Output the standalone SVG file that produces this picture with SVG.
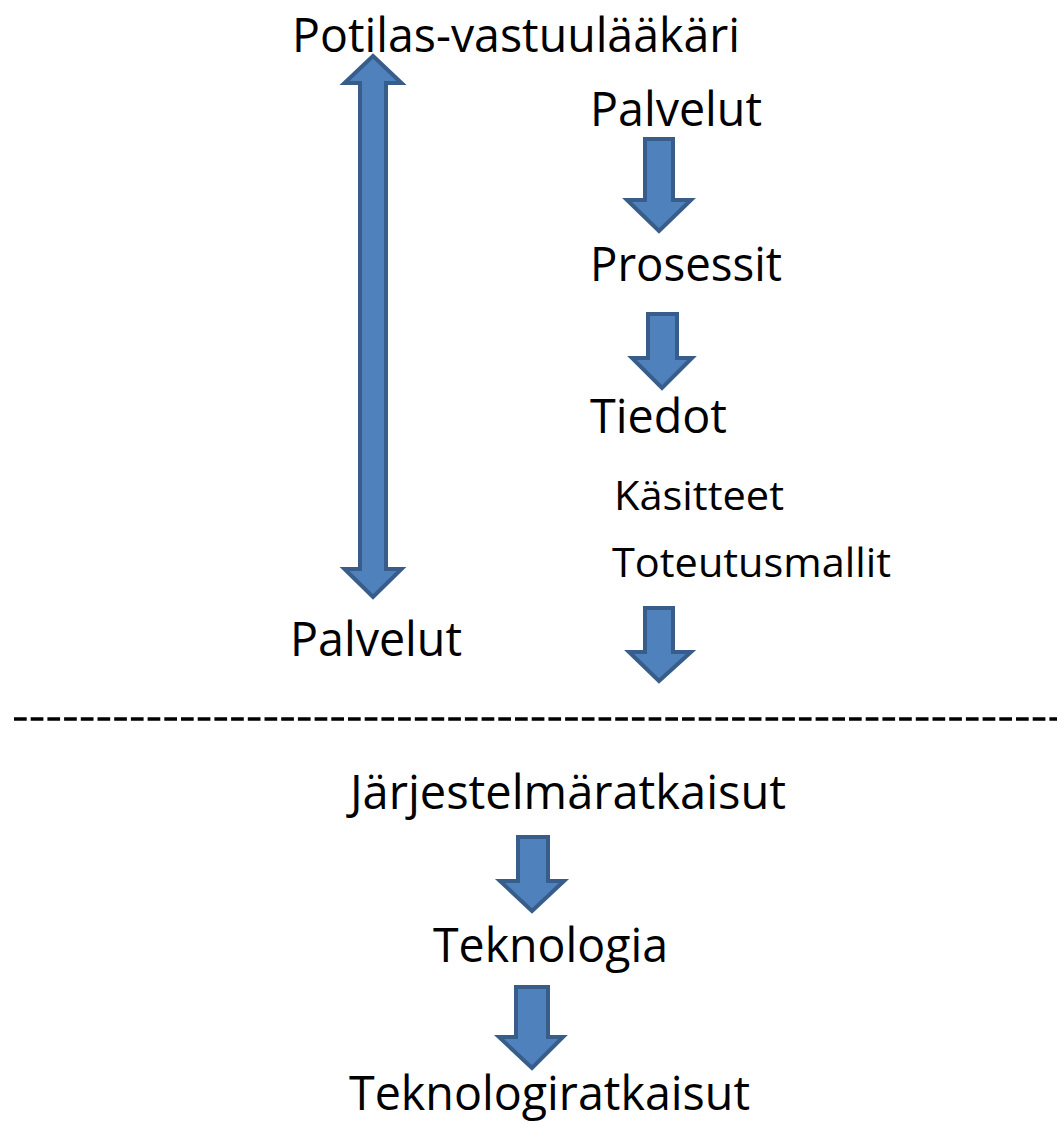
<svg xmlns="http://www.w3.org/2000/svg" width="1057" height="1125" viewBox="0 0 1057 1125">
<style>
  .lbl { font-family: "Open Sans", "Noto Sans", "Liberation Sans", sans-serif; fill: #000; }
  .big { font-size: 48px; }
  .small { font-size: 40px; }
  .arrow { fill: #4F81BD; stroke: #385D8A; stroke-width: 4; stroke-linejoin: miter; }
  .sep { stroke: #000; stroke-width: 3.5; stroke-dasharray: 12.7 4; fill: none; }
</style>
<rect width="1057" height="1125" fill="#fff"/>

<g id="connectors">
  <path id="arrow-double" class="arrow" d="M373,56 L401.5,83 L386,83 L386,569 L401.5,569 L373,597 L344.5,569 L360,569 L360,83 L344.5,83 Z"/>
  <path id="arrow-palvelut-prosessit" class="arrow" d="M645,139 L673,139 L673,200 L691,200 L659,231 L627,200 L645,200 Z"/>
  <path id="arrow-prosessit-tiedot" class="arrow" d="M648,314 L677,314 L677,358 L692,358 L662,388 L632,358 L648,358 Z"/>
  <path id="arrow-toteutusmallit" class="arrow" d="M645,608 L673,608 L673,652 L691,652 L659,681 L629,652 L645,652 Z"/>
  <path id="arrow-jarjestelma-teknologia" class="arrow" d="M518,837 L548,837 L548,881 L564,881 L532,911 L500,881 L518,881 Z"/>
  <path id="arrow-teknologia-ratkaisut" class="arrow" d="M516,987 L548,987 L548,1037 L563,1037 L532,1068 L499,1037 L516,1037 Z"/>
</g>

<g id="separator">
  <line class="sep" x1="14" y1="719" x2="1057" y2="719"/>
</g>

<g id="node-potilas"><text class="lbl big" x="292" y="52" textLength="448" lengthAdjust="spacingAndGlyphs">Potilas-vastuulääkäri</text></g>
<g id="node-palvelut-top"><text class="lbl big" x="590" y="126" textLength="172" lengthAdjust="spacingAndGlyphs">Palvelut</text></g>
<g id="node-prosessit"><text class="lbl big" x="590" y="281" textLength="192" lengthAdjust="spacingAndGlyphs">Prosessit</text></g>
<g id="node-tiedot"><text class="lbl big" x="590" y="433" textLength="137" lengthAdjust="spacingAndGlyphs">Tiedot</text></g>
<g id="node-kasitteet"><text class="lbl small" x="614" y="510" textLength="170" lengthAdjust="spacingAndGlyphs">Käsitteet</text></g>
<g id="node-toteutusmallit"><text class="lbl small" x="612" y="577" textLength="279" lengthAdjust="spacingAndGlyphs">Toteutusmallit</text></g>
<g id="node-palvelut-left"><text class="lbl big" x="290" y="656" textLength="172" lengthAdjust="spacingAndGlyphs">Palvelut</text></g>
<g id="node-jarjestelmaratkaisut"><text class="lbl big" x="350" y="809" textLength="436" lengthAdjust="spacingAndGlyphs">Järjestelmäratkaisut</text></g>
<g id="node-teknologia"><text class="lbl big" x="433" y="962" textLength="235" lengthAdjust="spacingAndGlyphs">Teknologia</text></g>
<g id="node-teknologiratkaisut"><text class="lbl big" x="349" y="1110" textLength="401" lengthAdjust="spacingAndGlyphs">Teknologiratkaisut</text></g>
</svg>
